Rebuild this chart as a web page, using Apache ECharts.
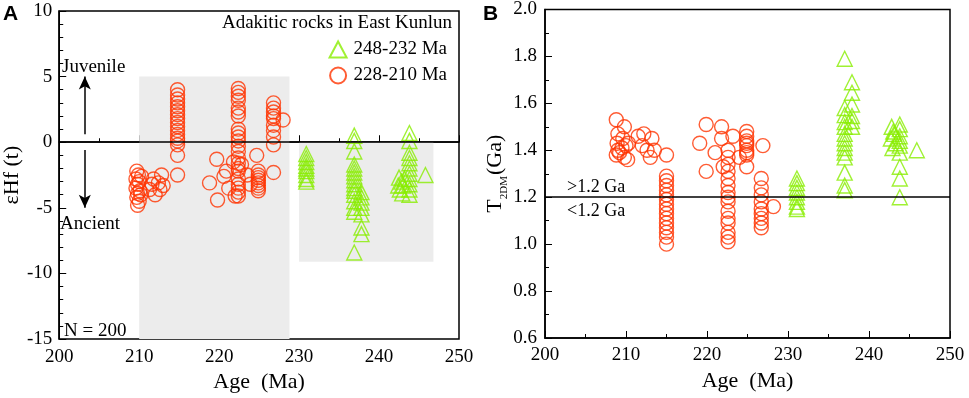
<!DOCTYPE html>
<html>
<head>
<meta charset="utf-8">
<script src="https://cdn.jsdelivr.net/npm/echarts@6/dist/echarts.min.js"></script>
<style>
  html, body { margin: 0; padding: 0; background: #fff; }
  #chart { width: 969px; height: 398px; }
</style>
</head>
<body>
<div id="chart"></div>
<script>
// 面板A: εHf(t) vs 年龄
let hfYoung = [
  [209.7,-2.2],[209.9,-2.5],[209.6,-2.8],[210.0,-3.0],[209.8,-3.2],[209.6,-3.5],[210.1,-3.7],
  [209.8,-3.9],[209.7,-4.2],[210.0,-4.5],[209.8,-4.8],[210.3,-2.6],[210.2,-4.0],
  [211.3,-3.6],[211.8,-2.8],[212.0,-4.0],[212.4,-3.1],[212.8,-2.5],[212.6,-3.6],[213.0,-3.3],[211.6,-3.2],
  [214.8,4.0],[214.8,3.6],[214.8,3.3],[214.8,3.0],[214.8,2.7],[214.8,2.4],[214.8,2.1],[214.8,1.8],
  [214.8,1.5],[214.8,1.2],[214.8,0.9],[214.8,0.6],[214.8,0.3],[214.8,0.1],[214.8,-0.2],[214.8,-1.0],[214.8,-2.5],
  [218.8,-3.1],[219.7,-1.3],[219.8,-4.4],[220.6,-2.6],[221.2,-3.5],[220.9,-2.2],
  [222.4,4.1],[222.4,3.8],[222.4,3.5],[222.4,3.2],[222.4,2.6],[222.4,2.3],[222.4,2.0],[222.4,1.0],
  [222.4,0.7],[222.4,0.4],[222.4,0.1],[222.4,-0.3],[222.4,-0.7],[222.4,-1.2],[222.4,-1.6],[222.4,-2.0],
  [222.4,-2.2],[222.4,-2.8],[222.4,-3.2],[222.4,-3.5],[222.4,-3.8],[222.4,-4.1],
  [222.0,-4.1],[221.8,-1.5],[222.8,-1.7],[223.5,-2.5],[223.9,-3.2],[224.7,-1.0],
  [224.9,-2.2],[224.9,-2.5],[224.9,-2.7],[224.9,-2.9],[224.9,-3.1],[224.9,-3.3],[224.9,-3.5],[224.9,-3.7],
  [226.8,3.0],[226.8,2.6],[226.8,2.3],[226.8,2.0],[226.8,1.8],[226.8,1.3],[226.8,0.9],[226.8,0.4],
  [226.8,-0.2],[226.8,-2.3],[228.0,1.7]
];
let hfOld = [
  [230.9,-0.9],[230.9,-1.2],[230.9,-1.5],[230.9,-1.8],[230.9,-2.0],[230.9,-2.2],[230.9,-2.5],[230.9,-2.8],[230.9,-3.0],
  [236.9,0.5],[236.9,0.1],[236.9,-0.7],[236.9,-1.7],[236.9,-2.0],[236.9,-2.3],[236.9,-2.6],[236.9,-2.9],
  [236.9,-3.2],[236.9,-3.5],[236.9,-3.7],[236.9,-4.0],[236.9,-4.5],[236.9,-5.0],[236.9,-5.3],[236.9,-8.4],
  [237.8,-3.8],[237.8,-4.2],[237.8,-4.6],[237.8,-5.0],[237.8,-5.5],[237.8,-6.5],[237.8,-7.0],
  [243.8,0.7],[243.8,0.1],[243.8,-0.8],[243.8,-1.2],[243.8,-1.6],[243.8,-2.0],[243.8,-2.4],[243.8,-2.8],
  [243.8,-3.2],[243.8,-3.6],[243.8,-4.0],
  [242.5,-2.7],[242.8,-3.0],[243.0,-3.3],[242.6,-3.6],[242.9,-3.9],[243.2,-2.8],[242.4,-3.3],
  [245.8,-2.5]
];

// 面板B: T2DM vs 年龄
let tdmYoung = [
  [208.8,1.53],[209.8,1.50],[209.0,1.47],[208.9,1.43],[209.5,1.41],[209.2,1.39],[209.8,1.37],
  [210.2,1.36],[209.0,1.40],[210.3,1.43],[209.6,1.45],[208.8,1.38],[210.0,1.42],
  [212.0,1.42],[212.6,1.40],[213.2,1.45],[212.2,1.47],[213.5,1.40],[213.0,1.37],[211.5,1.46],
  [215.0,1.38],[215.0,1.29],[215.0,1.27],[215.0,1.25],[215.0,1.23],[215.0,1.21],[215.0,1.19],[215.0,1.17],
  [215.0,1.15],[215.0,1.13],[215.0,1.11],[215.0,1.09],[215.0,1.07],[215.0,1.05],[215.0,1.03],[215.0,1.00],
  [219.9,1.51],[219.1,1.43],[221.8,1.50],[221.8,1.45],[221.0,1.39],[219.9,1.31],[222.0,1.33],
  [223.2,1.46],[224.0,1.37],[224.9,1.33],[226.9,1.42],
  [222.6,1.40],[222.6,1.37],[222.6,1.34],[222.6,1.31],[222.6,1.28],[222.6,1.25],[222.6,1.22],[222.6,1.20],
  [222.6,1.18],[222.6,1.14],[222.6,1.11],[222.6,1.09],[222.6,1.05],[222.6,1.03],[222.6,1.01],
  [224.9,1.48],[224.9,1.46],[224.9,1.44],[224.9,1.43],[224.9,1.42],[224.9,1.40],[224.9,1.39],[224.9,1.38],
  [226.7,1.28],[226.7,1.24],[226.7,1.21],[226.7,1.18],[226.7,1.15],[226.7,1.13],[226.7,1.11],[226.7,1.09],[226.7,1.07],
  [228.2,1.16]
];
let tdmOld = [
  [231.1,1.28],[231.1,1.26],[231.1,1.24],[231.1,1.22],[231.1,1.20],[231.1,1.18],[231.1,1.16],[231.1,1.15],
  [237.0,1.79],
  [237.9,1.69],[237.9,1.645],[237.9,1.595],[237.9,1.546],[237.9,1.525],[237.9,1.50],
  [237.0,1.58],[237.0,1.55],[237.0,1.52],[237.0,1.50],[237.0,1.47],[237.0,1.45],[237.0,1.43],[237.0,1.41],
  [237.0,1.39],[237.0,1.37],[237.0,1.305],[237.0,1.25],[237.0,1.23],
  [243.8,1.51],[243.8,1.49],[243.8,1.46],[243.8,1.44],[243.8,1.42],[243.8,1.39],[243.8,1.33],[243.8,1.28],[243.8,1.20],
  [242.8,1.50],[243.1,1.47],[242.7,1.45],[243.3,1.43],[242.9,1.41],[243.0,1.48],
  [245.9,1.40]
];

// 灰色区域与参考线
let hfBoxes = [[[210, 5], [228.8, -15]], [[230, 0], [246.8, -9.1]]];
let hfRefLine = 0;
let tdmRefLine = 1.2;

const RED = '#ff3300';
const GREEN = '#88ee00';
const SERIF = 'Liberation Serif';

let xAxisBase = gridIndex => ({
  gridIndex: gridIndex,
  type: 'value',
  min: 200,
  max: 250,
  interval: 10,
  minorTick: { show: true, splitNumber: 2, length: 4, lineStyle: { color: '#000' } },
  axisTick: { inside: true, length: 7, lineStyle: { color: '#000' } },
  axisLine: { lineStyle: { color: '#000', width: 1.5 } },
  axisLabel: { color: '#000', fontFamily: SERIF, fontSize: 19, margin: 8 },
  splitLine: { show: false },
  name: 'Age  (Ma)',
  nameLocation: 'middle',
  nameGap: 31,
  nameTextStyle: { color: '#000', fontFamily: SERIF, fontSize: 22 }
});

let chart = echarts.init(document.getElementById('chart'));
chart.setOption({
  animation: false,
  backgroundColor: '#fff',
  textStyle: { fontFamily: SERIF, color: '#000' },
  grid: [
    { left: 52, top: 11, width: 407, height: 332, show: true, borderColor: '#000', borderWidth: 1.5 },
    { left: 545, top: 8, width: 405, height: 330, show: true, borderColor: '#000', borderWidth: 1.5 }
  ],
  legend: {
    orient: 'vertical',
    right: 517,
    top: 35,
    itemWidth: 17,
    itemHeight: 16,
    itemGap: 7,
    data: ['248-232 Ma', '228-210 Ma'],
    textStyle: { color: '#000', fontFamily: SERIF, fontSize: 19, padding: [0, 0, 0, 2] }
  },
  xAxis: [xAxisBase(0), xAxisBase(1)],
  yAxis: [
    {
      gridIndex: 0,
      type: 'value',
      min: -15,
      max: 10,
      interval: 5,
      minorTick: { show: true, splitNumber: 5, length: 4, lineStyle: { color: '#000' } },
      axisTick: { inside: true, length: 7, lineStyle: { color: '#000' } },
      axisLine: { lineStyle: { color: '#000', width: 1.5 } },
      axisLabel: { color: '#000', fontFamily: SERIF, fontSize: 19, margin: 7 },
      splitLine: { show: false },
      name: 'εHf (t)',
      nameLocation: 'middle',
      nameGap: 30,
      nameTextStyle: { color: '#000', fontFamily: SERIF, fontSize: 22 }
    },
    {
      gridIndex: 1,
      type: 'value',
      min: 0.6,
      max: 2.0,
      interval: 0.2,
      minorTick: { show: true, splitNumber: 2, length: 4, lineStyle: { color: '#000' } },
      axisTick: { inside: true, length: 7, lineStyle: { color: '#000' } },
      axisLine: { lineStyle: { color: '#000', width: 1.5 } },
      axisLabel: {
        color: '#000', fontFamily: SERIF, fontSize: 19, margin: 8,
        formatter: v => v.toFixed(1)
      },
      splitLine: { show: false },
      name: '{t|T}{s|2DM}{t|(Ga)}',
      nameLocation: 'middle',
      nameGap: 37,
      nameTextStyle: {
        color: '#000',
        rich: {
          t: { fontFamily: SERIF, fontSize: 22, color: '#000' },
          s: { fontFamily: SERIF, fontSize: 11, color: '#000', verticalAlign: 'bottom', padding: [0, 1, -3, 0] }
        }
      }
    }
  ],
  series: [
    {
      name: '228-210 Ma',
      type: 'scatter',
      xAxisIndex: 0,
      yAxisIndex: 0,
      symbol: 'circle',
      symbolSize: 14,
      itemStyle: { color: 'rgba(0,0,0,0)', borderColor: RED, borderWidth: 1.4 },
      data: hfYoung,
      z: 3,
      markArea: {
        silent: true,
        itemStyle: { color: '#ececec' },
        data: hfBoxes.map(b => [{ coord: b[0] }, { coord: b[1] }])
      },
      markLine: {
        silent: true,
        symbol: ['none', 'none'],
        label: { show: false },
        lineStyle: { color: '#000', width: 1.5, type: 'solid' },
        data: [
          { yAxis: hfRefLine },
          [{ coord: [203.2, 0.6], symbol: 'none' }, { coord: [203.2, 5.0], symbol: 'arrow', symbolSize: [9, 13] }],
          [{ coord: [203.2, -0.6], symbol: 'none' }, { coord: [203.2, -5.0], symbol: 'arrow', symbolSize: [9, 13] }]
        ]
      }
    },
    {
      name: '248-232 Ma',
      type: 'scatter',
      xAxisIndex: 0,
      yAxisIndex: 0,
      symbol: 'triangle',
      symbolSize: 15,
      itemStyle: { color: 'rgba(0,0,0,0)', borderColor: GREEN, borderWidth: 1.4 },
      data: hfOld,
      z: 3
    },
    {
      name: '228-210 Ma',
      type: 'scatter',
      xAxisIndex: 1,
      yAxisIndex: 1,
      symbol: 'circle',
      symbolSize: 14,
      itemStyle: { color: 'rgba(0,0,0,0)', borderColor: RED, borderWidth: 1.4 },
      data: tdmYoung,
      z: 3,
      markLine: {
        silent: true,
        symbol: ['none', 'none'],
        label: { show: false },
        lineStyle: { color: '#000', width: 1.5, type: 'solid' },
        data: [{ yAxis: tdmRefLine }]
      }
    },
    {
      name: '248-232 Ma',
      type: 'scatter',
      xAxisIndex: 1,
      yAxisIndex: 1,
      symbol: 'triangle',
      symbolSize: 15,
      itemStyle: { color: 'rgba(0,0,0,0)', borderColor: GREEN, borderWidth: 1.4 },
      data: tdmOld,
      z: 3
    }
  ],
  graphic: [
    { type: 'text', left: 3, top: 4, style: { text: 'A', font: 'bold 21px "Liberation Sans", Arial, sans-serif', fill: '#000' } },
    { type: 'text', left: 483, top: 4, style: { text: 'B', font: 'bold 21px "Liberation Sans", Arial, sans-serif', fill: '#000' } },
    { type: 'text', right: 517, top: 14, style: { text: 'Adakitic rocks in East Kunlun', font: '19px "Liberation Serif"', fill: '#000' } },
    { type: 'text', left: 62, top: 58, style: { text: 'Juvenile', font: '19px "Liberation Serif"', fill: '#000' } },
    { type: 'text', left: 60, top: 215, style: { text: 'Ancient', font: '19px "Liberation Serif"', fill: '#000' } },
    { type: 'text', left: 64, top: 322, style: { text: 'N = 200', font: '19px "Liberation Serif"', fill: '#000' } },
    { type: 'text', left: 567, top: 178, style: { text: '>1.2 Ga', font: '18px "Liberation Serif"', fill: '#000' } },
    { type: 'text', left: 567, top: 202, style: { text: '<1.2 Ga', font: '18px "Liberation Serif"', fill: '#000' } }
  ]
});
</script>
</body>
</html>
